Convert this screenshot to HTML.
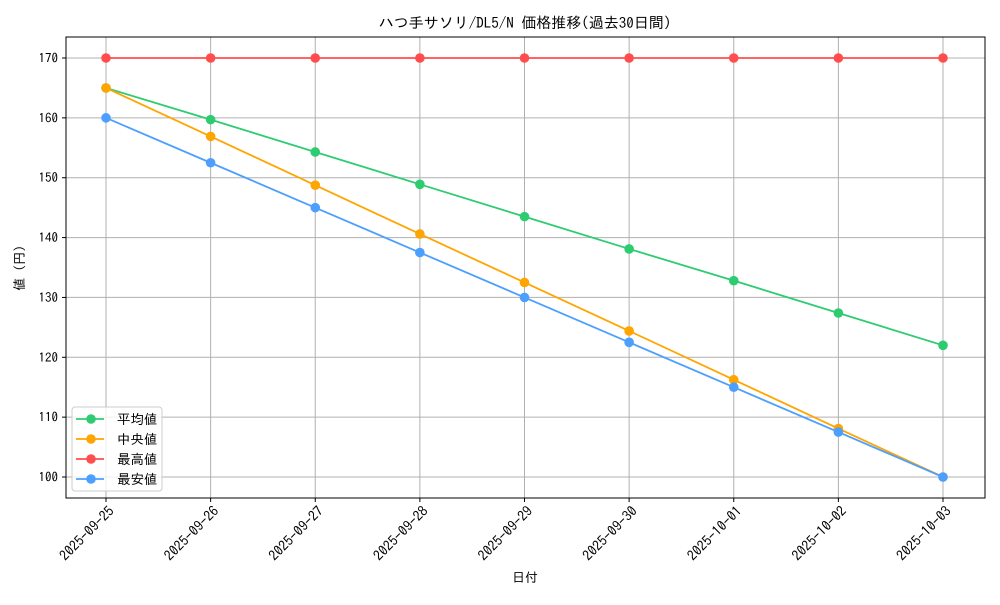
<!DOCTYPE html>
<html><head><meta charset="utf-8"><style>
body{margin:0;background:#fff;}
svg text{font-family:"IPAGothic","Noto Sans CJK JP",sans-serif;fill:#000;}
</style></head><body>
<svg id="c" width="1000" height="600"></svg>
<script>
const categories=["2025-09-25","2025-09-26","2025-09-27","2025-09-28","2025-09-29","2025-09-30","2025-10-01","2025-10-02","2025-10-03"];
const avgValues=[165,159.7,154.3,148.9,143.5,138.1,132.8,127.4,122.0];
const medianValues=[165,156.9,148.75,140.6,132.5,124.4,116.25,108.1,100];
const maxValues=[170,170,170,170,170,170,170,170,170];
const minValues=[160,152.5,145,137.5,130,122.5,115,107.5,100];
const yTicks=[100,110,120,130,140,150,160,170];
const seriesNames=["平均値","中央値","最高値","最安値"];

const NS="http://www.w3.org/2000/svg";
const svg=document.getElementById('c');
const L=66,R=985,T=37,B=498;
const x=i=>106+i*(943-106)/(categories.length-1);
const y=v=>477+(100-v)*(477-58)/70;
function el(t,a,p){const e=document.createElementNS(NS,t);for(const k in a)e.setAttribute(k,a[k]);(p||svg).appendChild(e);return e;}

const bg=el('rect',{x:L,y:T,width:R-L,height:B-T,fill:'#fff'});


yTicks.forEach(v=>{
  const g=el('line',{x1:L,x2:R,y1:y(v),y2:y(v),stroke:'#b0b0b0','stroke-width':1});
  
  
  el('line',{x1:L-4,x2:L,y1:y(v),y2:y(v),stroke:'#000'});
  const t=el('text',{x:L-8,y:y(v)+4.5,'text-anchor':'end','font-size':13});
  t.textContent=v;
  
  
});
categories.forEach((c,i)=>{
  const g=el('line',{x1:x(i),x2:x(i),y1:T,y2:B,stroke:'#b0b0b0','stroke-width':1});
  
  
  el('line',{x1:x(i),x2:x(i),y1:B,y2:B+4,stroke:'#000'});
  const ax=x(i)+9,ay=B+14;
  const t=el('text',{x:ax,y:ay,'text-anchor':'end','font-size':14,transform:`rotate(-45 ${ax} ${ay})`});
  t.textContent=c;
  
  
});
const fr=el('rect',{x:L,y:T,width:R-L,height:B-T,fill:'none',stroke:'#000','stroke-width':1});



const series=[[avgValues,'#2ecc71'],[medianValues,'#ffa500'],[maxValues,'#ff4d4d'],[minValues,'#4d9fff']];
series.forEach(([vals,col],si)=>{
  const g=el('g',{});
  
  
  el('polyline',{points:vals.map((v,i)=>x(i)+','+y(v)).join(' '),fill:'none',stroke:col,'stroke-width':1.8},g);
  vals.forEach((v,i)=>{
    const p=el('circle',{cx:x(i),cy:y(v),r:4.8,fill:col},g);
    
    
  });
});

const lg=el('g',{});


el('rect',{x:72,y:407,width:90,height:84,rx:3,fill:'#fff','fill-opacity':0.8,stroke:'#ccc'},lg);
series.forEach(([v,col],i)=>{
  const yy=419+i*20;
  const e=el('g',{},lg);
  
  
  el('line',{x1:76,x2:104,y1:yy,y2:yy,stroke:col,'stroke-width':1.8},e);
  el('circle',{cx:91,cy:yy,r:4.8,fill:col},e);
  const t=el('text',{x:117,y:yy+5,'font-size':13.5},e);
  t.textContent=seriesNames[i];
});

const ti=el('text',{x:525,y:28,'text-anchor':'middle','font-size':15});
ti.textContent='ハつ手サソリ/DL5/N 価格推移(過去30日間)';


const xt=el('text',{x:525,y:582,'text-anchor':'middle','font-size':13});
xt.textContent='日付';


const yt=el('text',{x:24,y:268,'text-anchor':'middle','font-size':13,transform:'rotate(-90 24 268)'});
yt.textContent='値 (円)';


</script>
</body></html>
